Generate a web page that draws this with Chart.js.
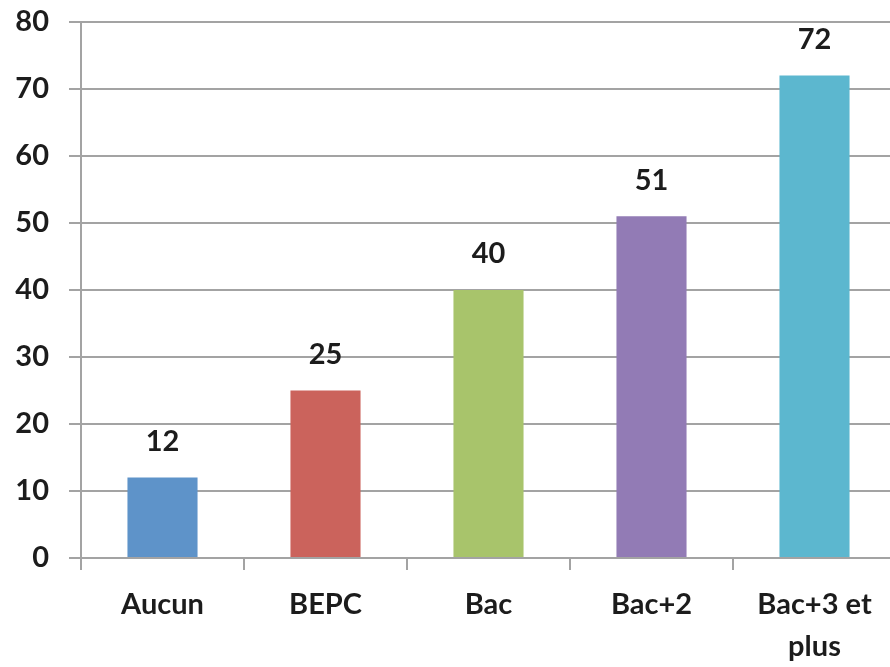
<!DOCTYPE html>
<html>
<head>
<meta charset="utf-8">
<script src="https://cdn.jsdelivr.net/npm/chart.js@4.4.1/dist/chart.umd.min.js"></script>
<style>
  body { margin: 0; background: #fff; overflow: hidden; }
</style>
</head>
<body>
<canvas id="myChart" width="900" height="667"></canvas>
<script>
// data
const categories = ["Aucun", "BEPC", "Bac", "Bac+2", ["Bac+3 et", "plus"]];
const values = [12, 25, 40, 51, 72];
const barColors = ["#5E93C9", "#CB635C", "#A8C46B", "#927BB5", "#5CB7CF"];
const yTicks = [0, 10, 20, 30, 40, 50, 60, 70, 80];

const gridGray = "#A3A3A3";
const textColor = "#1c1c1c";
const fontFamily = "Lato, 'Liberation Sans', sans-serif";

// values above bars
const valueLabels = {
  id: "valueLabels",
  afterDatasetsDraw(chart) {
    const c = chart.ctx;
    const meta = chart.getDatasetMeta(0);
    c.save();
    c.font = "bold 29px " + fontFamily;
    c.fillStyle = textColor;
    c.textAlign = "center";
    c.textBaseline = "middle";
    meta.data.forEach((bar, i) => {
      c.fillText(values[i], bar.x, bar.y - 36);
    });
    c.restore();
  }
};

const ctx = document.getElementById("myChart").getContext("2d");

const myChart = new Chart(ctx, {
  type: "bar",
  data: {
    labels: categories,
    datasets: [
      {
        data: values,
        backgroundColor: barColors,
        borderWidth: 0,
        barPercentage: 0.43,
        categoryPercentage: 1
      }
    ]
  },
  options: {
    responsive: false,
    animation: false,
    layout: { padding: { top: 22, right: 4, left: 0, bottom: 0 } },
    plugins: {
      legend: { display: false },
      tooltip: { enabled: false }
    },
    scales: {
      x: {
        grid: {
          display: true,
          drawOnChartArea: false,
          drawTicks: true,
          tickLength: 12,
          color: gridGray,
          lineWidth: 2
        },
        border: { display: true, color: gridGray, width: 2 },
        ticks: {
          color: textColor,
          font: { family: fontFamily, size: 29, weight: "bold", lineHeight: 1.45 },
          padding: 14,
          maxRotation: 0,
          autoSkip: false
        },
        afterFit(scale) {
          scale.height = 109;
          scale.paddingLeft = 0;
          scale.paddingRight = 0;
        }
      },
      y: {
        min: 0,
        max: 80,
        afterBuildTicks(scale) {
          scale.ticks = yTicks.map(v => ({ value: v }));
        },
        grid: {
          color: gridGray,
          lineWidth: 2,
          tickLength: 12
        },
        border: { display: true, color: gridGray, width: 2 },
        ticks: {
          color: textColor,
          font: { family: fontFamily, size: 29, weight: "bold" },
          padding: 20
        },
        afterFit(scale) {
          scale.width = 81;
          scale.paddingTop = 0;
          scale.paddingBottom = 0;
        }
      }
    }
  },
  plugins: [valueLabels]
});
</script>
</body>
</html>
